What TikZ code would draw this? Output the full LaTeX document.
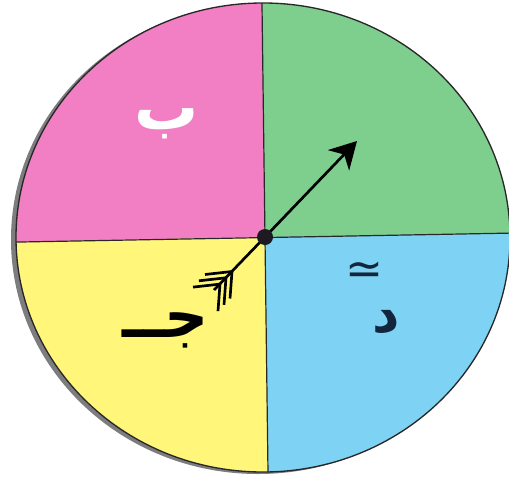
\documentclass[tikz,border=0pt]{standalone}
\usepackage{fontspec}
\TeXXeTstate=1
\newfontfamily\arabicfont[Script=Arabic]{DejaVu Sans}
\newfontfamily\symfont{DejaVu Sans}
\usetikzlibrary{arrows.meta}
\definecolor{pinkq}{RGB}{242,126,196}
\definecolor{greenq}{RGB}{126,206,142}
\definecolor{blueq}{RGB}{126,211,245}
\definecolor{yellowq}{RGB}{255,246,122}
\definecolor{shadowgray}{RGB}{125,125,128}
\definecolor{rimc}{RGB}{40,40,40}
\definecolor{dotc}{RGB}{30,26,34}
\definecolor{navyc}{RGB}{20,38,62}
\tikzset{
  divline/.style={draw=rimc, line width=0.9pt},
  rimline/.style={draw=rimc, line width=1pt},
  shaft/.style={draw=black, line width=2pt},
  feather/.style={draw=black, line width=2pt, line cap=butt},
  lbl/.style={inner sep=0pt, font=\arabicfont\bfseries}
}
\begin{document}
\begin{tikzpicture}[x=0.75pt,y=-0.75pt]
\useasboundingbox (0,0) rectangle (509,478);
\coordinate (C) at (265,237);
% shadow
\fill[shadowgray] (258,239.5) ellipse [x radius=247, y radius=234.5];
% quadrants
\begin{scope}
\clip (263,237.5) ellipse [x radius=247, y radius=234.5];
\fill[pinkq] (C) -- (261.3,-50) -- (-40,-50) -- (-40,243.1) -- cycle;
\fill[greenq] (C) -- (261.3,-50) -- (560,-50) -- (560,232.2) -- cycle;
\fill[blueq] (C) -- (560,232.2) -- (560,520) -- (268.6,520) -- cycle;
\fill[yellowq] (C) -- (268.6,520) -- (-40,520) -- (-40,243.1) -- cycle;
\draw[divline] (261.3,-50) -- (268.6,520);
\draw[divline] (-40,243.1) -- (560,232.2);
\end{scope}
\draw[rimline] (263,237.5) ellipse [x radius=247, y radius=234.5];
% arrow
\coordinate (tip) at (357,141);
\coordinate (tail) at (214,290);
\draw[shaft] (C) -- (tail);
\draw[shaft, -{Stealth[length=20pt,width=22pt,inset=6pt]}] (C) -- (tip);
\foreach \px/\py in {232/271.5, 226/277.8, 220/284.1}{
  \draw[feather] (\px,\py) -- ++(-27,3);
  \draw[feather] (\px,\py) -- ++(-2,27);
}
\node[circle, fill=dotc, minimum size=12pt, inner sep=0pt] (hub) at (C) {};
% labels
\node[lbl, text=white, font=\arabicfont\bfseries\fontsize{48}{48}\selectfont] (b) at (167,124) {\beginR ب\endR};
\node[lbl, text=black, font=\arabicfont\bfseries\fontsize{46}{46}\selectfont] (j) at (166,330) {\beginR جــ\endR};
\node[lbl, text=navyc, font=\arabicfont\bfseries\fontsize{40}{40}\selectfont] (d) at (386,322) {\beginR د\endR};
\node[inner sep=0pt, text=navyc, font=\symfont\fontsize{34}{34}\selectfont] (s) at (364,273) {≃};
\end{tikzpicture}
\end{document}
